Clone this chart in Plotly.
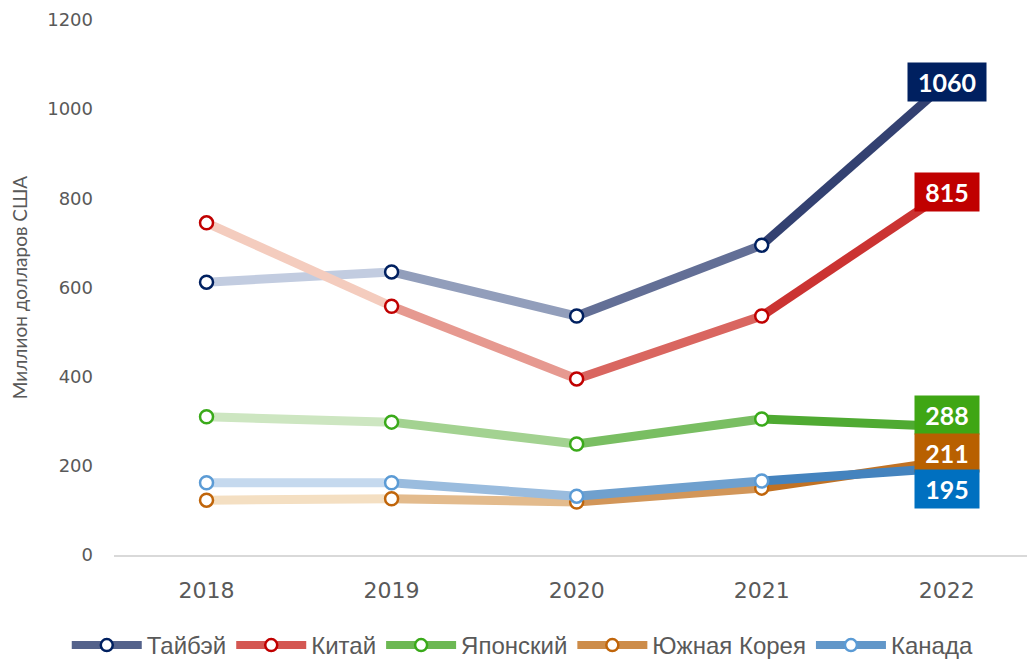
import plotly.graph_objects as go

years = ['2018', '2019', '2020', '2021', '2022']
taibei = [612, 635, 536, 695, 1060]
kitai = [745, 558, 395, 536, 815]
japan = [310, 298, 249, 305, 288]
korea = [123, 126, 119, 150, 211]
kanada = [162, 162, 132, 166, 195]

names = ['Тайбэй', 'Китай', 'Японский', 'Южная Корея', 'Канада']
series = [taibei, kitai, japan, korea, kanada]
# light start colour, dark end colour, marker colour, label colour
start_col = ['#dae3f3', '#fbe5d6', '#e2f0d9', '#fdf1dc', '#dbe7f6']
end_col = ['#1b2a5e', '#c41a1a', '#3aa01a', '#b8600a', '#2e75b6']
mark_col = ['#002060', '#c00000', '#3aaa1a', '#c0650a', '#5b9bd5']
box_col = ['#002060', '#c00000', '#3fa614', '#b86000', '#0070c0']
label_shift = [0, 0, 12, 8, -21]


def hex2rgb(h):
    h = h.lstrip('#')
    return [int(h[i:i + 2], 16) for i in (0, 2, 4)]


def mix(a, b, t):
    ca, cb = hex2rgb(a), hex2rgb(b)
    c = [round(ca[k] + (cb[k] - ca[k]) * t) for k in range(3)]
    return 'rgb(%d,%d,%d)' % tuple(c)


fig = go.Figure()
nseg = len(years) - 1
last = len(years) - 1
for s, vals in enumerate(series):
    # one segment per interval so the colour darkens along the line
    for i in range(nseg):
        t = (i + 0.5) / nseg
        fig.add_trace(go.Scatter(
            x=years[i:i + 2], y=vals[i:i + 2], mode='lines',
            line=dict(color=mix(start_col[s], end_col[s], t), width=9),
            showlegend=False, hoverinfo='skip'))
    fig.add_trace(go.Scatter(
        x=years[:-1], y=vals[:-1], mode='markers',
        marker=dict(size=13, color='white', line=dict(color=mark_col[s], width=2.5)),
        showlegend=False, name=names[s]))
    # legend entry
    fig.add_trace(go.Scatter(
        x=[None], y=[None], mode='lines+markers', name=names[s],
        line=dict(color=mix(start_col[s], end_col[s], 0.7), width=8),
        marker=dict(size=12, color='white', line=dict(color=mark_col[s], width=2.5))))
    # category axis: place the label by category index
    txt = str(vals[last])
    fig.add_annotation(
        x=last, y=vals[last], text='<b>%s</b>' % txt, showarrow=False,
        yshift=label_shift[s], bgcolor=box_col[s], borderpad=4,
        width=14 * len(txt) + 14,
        font=dict(family='Lato, Open Sans, sans-serif', size=25, color='white'))

fig.update_layout(
    width=1035, height=660,
    margin=dict(l=106, r=0, t=12, b=107),
    plot_bgcolor='white', paper_bgcolor='white',
    font=dict(family='DejaVu Sans, sans-serif', color='#595959'),
    xaxis=dict(type='category', range=[-0.5, 4.52], showgrid=False,
               showline=True, linecolor='#d9d9d9', linewidth=2,
               ticks='', ticklabelstandoff=15, automargin=False,
               tickfont=dict(size=22, color='#595959')),
    yaxis=dict(range=[0, 1200], dtick=200, showgrid=False, zeroline=False,
               showline=False, ticks='', ticklabelstandoff=20, automargin=False,
               tickfont=dict(size=18, color='#595959'),
               title=dict(text='Миллион долларов США', standoff=14,
                          font=dict(family='Lato, sans-serif', size=19, color='#595959'))),
    legend=dict(orientation='h', x=0.44, xanchor='center', y=-0.128, yanchor='top',
                font=dict(family='Liberation Sans, sans-serif',
                          size=24, color='#595959'),
                itemwidth=70),
)

fig.write_html("out.html")
